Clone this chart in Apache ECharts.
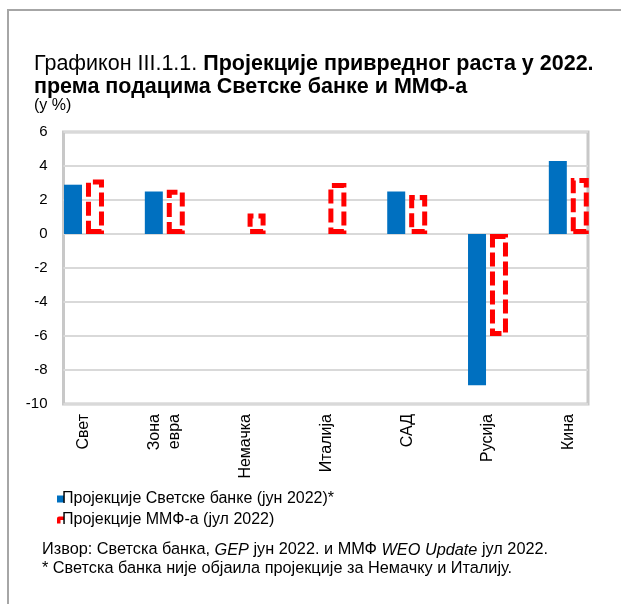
<!DOCTYPE html>
<html>
<head>
    <meta charset="utf-8">
    <title>Графикон III.1.1.</title>
    <script src="https://cdn.jsdelivr.net/npm/echarts@6/dist/echarts.min.js"></script>
    <style>
        html, body { margin: 0; padding: 0; background: #fff; }
        #main { width: 621px; height: 604px; }
    </style>
</head>
<body>
<div id="main"></div>
<script type="text/javascript">
    // категорије
    var categories = ['Свет', 'Зона\nевра', 'Немачка', 'Италија', 'САД', 'Русија', 'Кина'];
    // пројекције Светске банке (јун 2022), без Немачке и Италије
    var wbValues = [2.9, 2.5, null, null, 2.5, -8.9, 4.3];
    // пројекције ММФ-а (јул 2022)
    var imfValues = [3.2, 2.6, 1.2, 3.0, 2.3, -6.0, 3.3];
    var seriesNames = ['Пројекције Светске банке (јун 2022)*', 'Пројекције ММФ-а (јул 2022)'];
    var yMin = -10, yMax = 6, yStep = 2;

    var font = '"Liberation Sans", Arial, sans-serif';
    var myChart = echarts.init(document.getElementById('main'));

    myChart.setOption({
        animation: false,
        textStyle: {fontFamily: font},
        title: {
            left: 34,
            top: 53,
            padding: 0,
            text: '{n|Графикон III.1.1. }{b|Пројекције привредног раста у 2022.}\n{b|према подацима Светске банке и ММФ-а}',
            textStyle: {
                rich: {
                    n: {fontFamily: font, fontSize: 21.5, fontWeight: 'normal', color: '#000', lineHeight: 23},
                    b: {fontFamily: font, fontSize: 21.5, fontWeight: 'bold', color: '#000', lineHeight: 23}
                }
            }
        },
        graphic: [
            {
                type: 'rect',
                shape: {x: 8, y: 10, width: 700, height: 700},
                style: {fill: 'none', stroke: '#a6a6a6', lineWidth: 2},
                silent: true
            },
            {
                type: 'text',
                left: 34,
                top: 98,
                style: {text: '(у %)', fontFamily: font, fontSize: 16, fill: '#000'}
            },
            {
                type: 'text',
                left: 42,
                top: 542,
                style: {
                    text: '{n|Извор: Светска банка, }{i|GEP}{n| јун 2022. и ММФ }{i|WEO Update}{n| јул 2022.}\n{n|* Светска банка није објаила пројекције за Немачку и Италију.}',
                    rich: {
                        n: {fontFamily: font, fontSize: 16.3, fill: '#000', lineHeight: 19},
                        i: {fontFamily: font, fontSize: 16.3, fontStyle: 'italic', fill: '#000', lineHeight: 19}
                    }
                }
            }
        ],
        legend: {
            orient: 'vertical',
            left: 52,
            top: 486,
            itemWidth: 7,
            itemHeight: 7,
            itemGap: 5,
            textStyle: {fontFamily: font, fontSize: 16, color: '#000', padding: [0, 0, 0, -7]},
            data: [
                {name: seriesNames[0], icon: 'rect', itemStyle: {color: '#0070C0'}},
                {
                    name: seriesNames[1],
                    icon: 'path://M0,10 L0,3 Q0,0 3,0 L10,0 L10,5 L5,5 L5,10 Z',
                    itemStyle: {color: '#FF0000', borderWidth: 0, borderType: 'solid'}
                }
            ]
        },
        grid: [
            // рамка и мрежа
            {left: 63.5, right: 33, top: 132, bottom: 200, show: true, borderColor: '#c8c8c8', borderWidth: 3, backgroundColor: 'transparent'},
            // стубићи
            {left: 43.6, right: 11.8, top: 132, bottom: 200}
        ],
        xAxis: [
            {gridIndex: 0, type: 'category', data: categories, show: false},
            {
                gridIndex: 1,
                type: 'category',
                data: categories,
                axisLine: {show: false},
                axisTick: {show: false},
                axisLabel: {
                    rotate: 90,
                    margin: 10,
                    fontFamily: font,
                    fontSize: 16,
                    color: '#000',
                    lineHeight: 20,
                    interval: 0
                }
            }
        ],
        yAxis: [
            {
                gridIndex: 0,
                type: 'value',
                min: yMin,
                max: yMax,
                interval: yStep,
                axisLine: {show: false},
                axisTick: {show: false},
                axisLabel: {margin: 16, fontFamily: font, fontSize: 15, color: '#000'},
                splitLine: {lineStyle: {color: '#d9d9d9', width: 2}}
            },
            {gridIndex: 1, type: 'value', min: yMin, max: yMax, interval: yStep, show: false, splitLine: {show: false}}
        ],
        series: [
            {
                name: seriesNames[0],
                type: 'bar',
                xAxisIndex: 1,
                yAxisIndex: 1,
                data: wbValues,
                barWidth: 18,
                barGap: '22%',
                itemStyle: {color: '#0070C0'}
            },
            {
                name: seriesNames[1],
                type: 'bar',
                xAxisIndex: 1,
                yAxisIndex: 1,
                data: imfValues,
                barWidth: 18,
                barGap: '22%',
                itemStyle: {
                    color: 'rgba(0,0,0,0)',
                    borderColor: '#FF0000',
                    borderWidth: 5,
                    borderType: [14, 5]
                }
            }
        ]
    });
</script>
</body>
</html>
